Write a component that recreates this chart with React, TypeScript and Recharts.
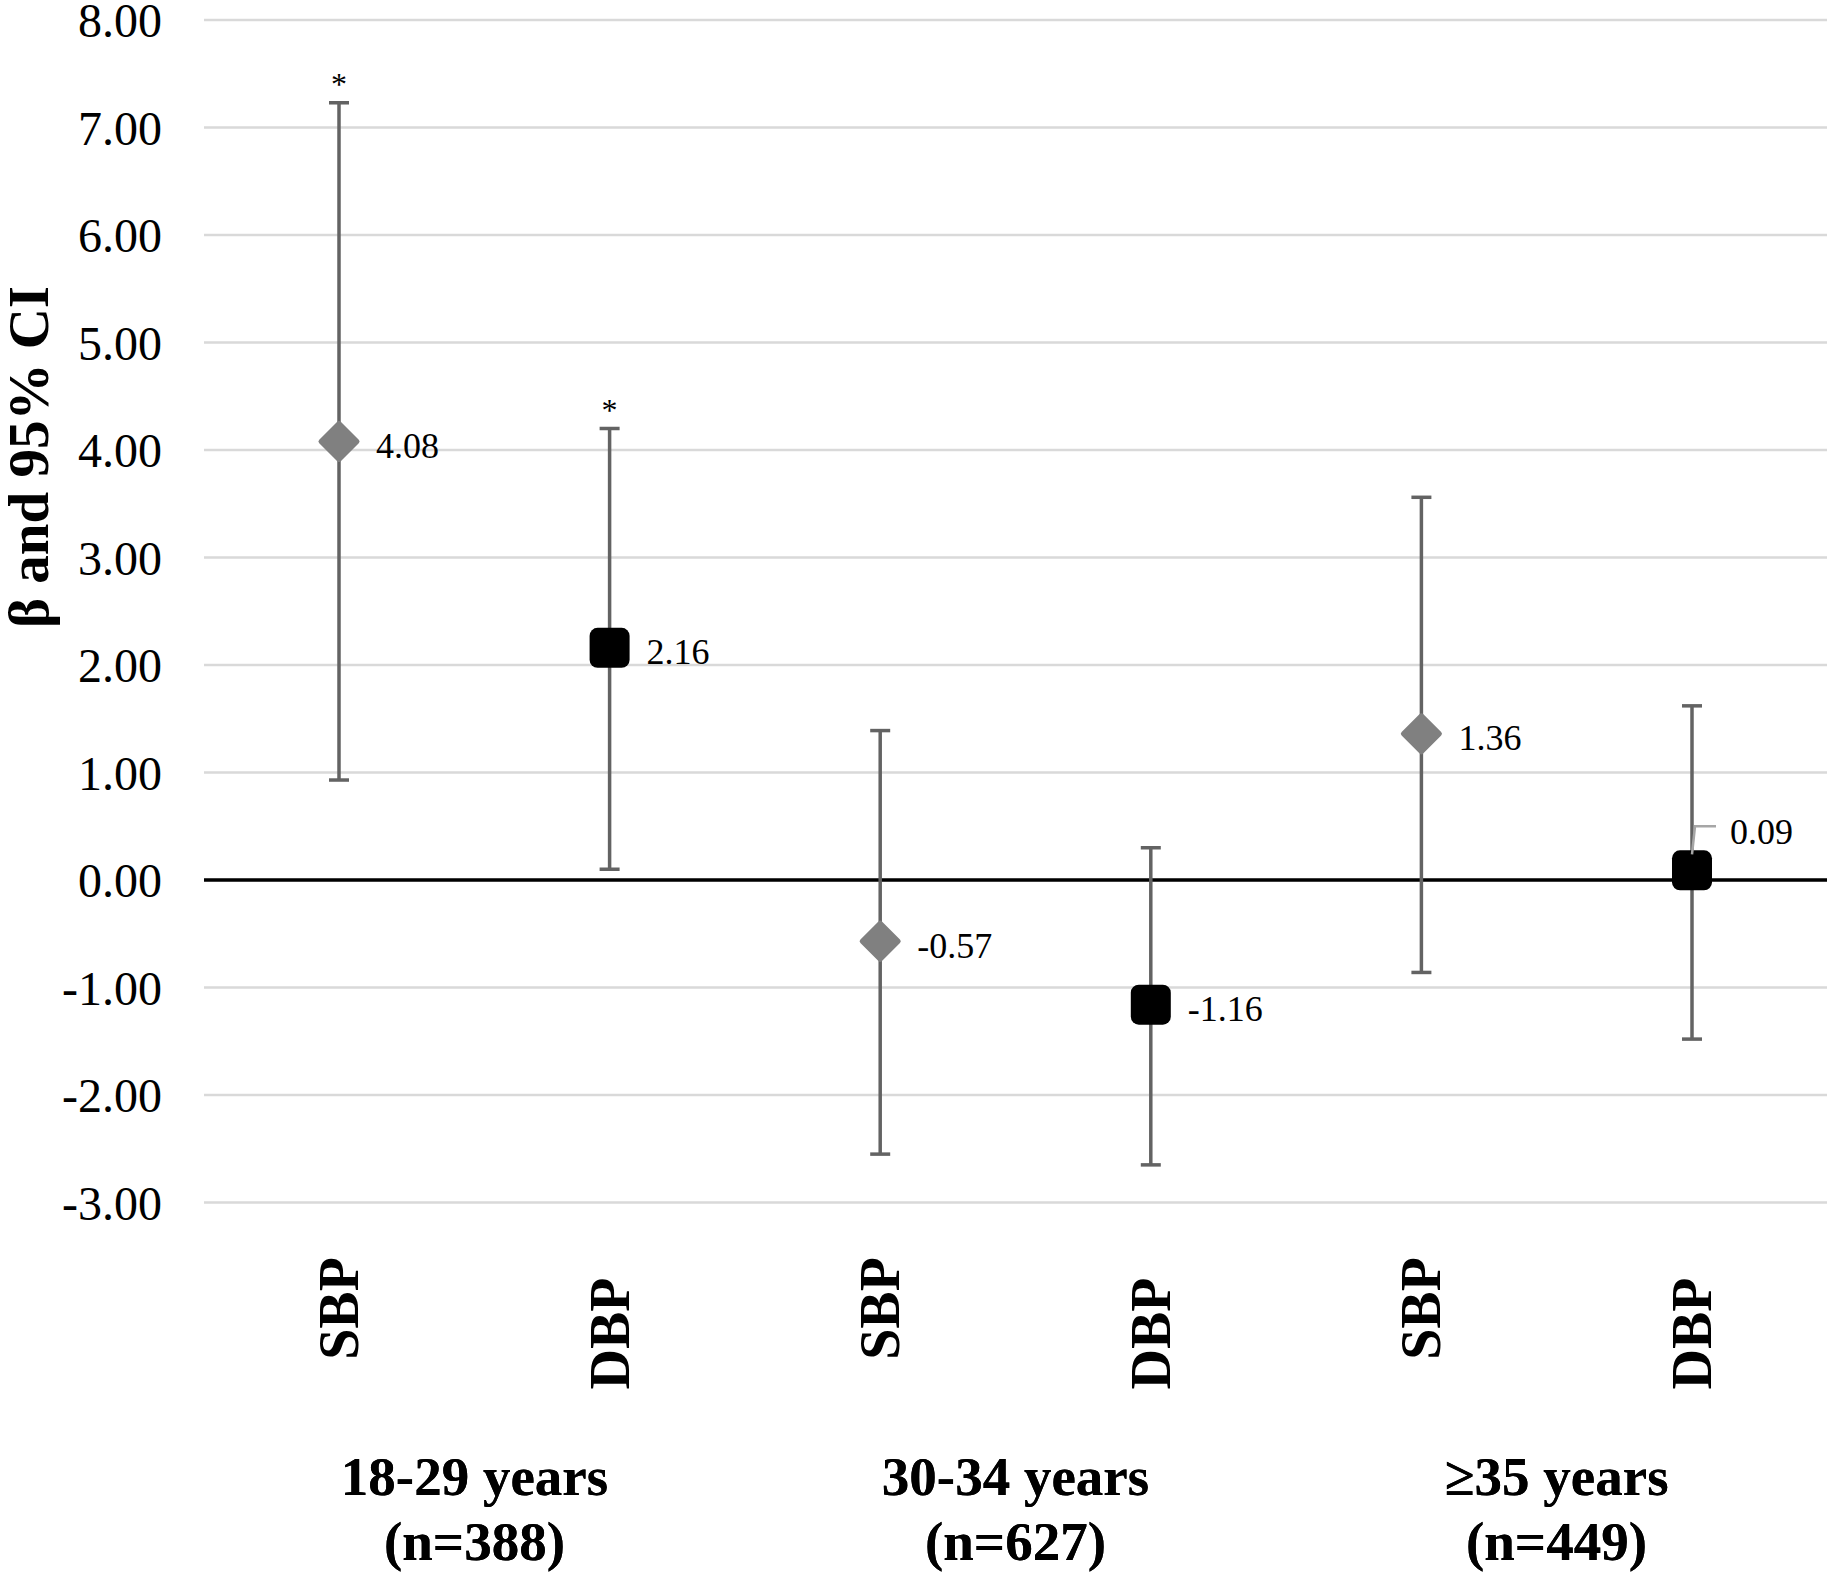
import { ComposedChart, Scatter, ErrorBar, XAxis, YAxis, CartesianGrid, ReferenceLine } from "recharts"

const groups = ["18-29 years", "30-34 years", "≥35 years"]
const groupSizes = ["(n=388)", "(n=627)", "(n=449)"]
const measures = ["SBP", "DBP"]
const beta = [4.08, 2.16, -0.57, -1.16, 1.36, 0.09]
const ciLow = [0.93, 0.1, -2.55, -2.65, -0.86, -1.48]
const ciHigh = [7.23, 4.2, 1.39, 0.3, 3.56, 1.62]
const significant = [true, true, false, false, false, false]
const yTicks = [-3, -2, -1, 0, 1, 2, 3, 4, 5, 6, 7, 8]

const rows = beta.map((b, i) => ({
  id: `${groups[Math.floor(i / 2)]}|${measures[i % 2]}`,
  measure: measures[i % 2],
  group: groups[Math.floor(i / 2)],
  beta: b,
  hi: ciHigh[i],
  err: [b - ciLow[i], ciHigh[i] - b],
  sig: significant[i],
}))

const FONT = '"Liberation Serif", "Times New Roman", serif'

function Marker(props: any) {
  const { cx, cy, payload } = props
  if (cx == null || cy == null) return <g />
  const label = payload.beta.toFixed(2)
  const nearZero = Math.abs(payload.beta) < 0.3
  return (
    <g>
      {payload.measure === "SBP" ? (
        <path
          d={`M${cx},${cy - 18} L${cx + 18},${cy} L${cx},${cy + 18} L${cx - 18},${cy} Z`}
          fill="#808080"
          stroke="#808080"
          strokeWidth={5}
          strokeLinejoin="round"
        />
      ) : (
        <rect x={cx - 20} y={cy - 20} width={40} height={40} rx={8} fill="#000" />
      )}
      {nearZero ? (
        <>
          <polyline
            points={`${cx},${cy - 16} ${cx + 3},${cy - 44} ${cx + 24},${cy - 44}`}
            fill="none"
            stroke="#a6a6a6"
            strokeWidth={2.5}
          />
          <text x={cx + 38} y={cy - 39} dy="0.35em" fontSize={36} fontFamily={FONT} fill="#000">
            {label}
          </text>
        </>
      ) : (
        <text x={cx + 37} y={cy + 4} dy="0.35em" fontSize={36} fontFamily={FONT} fill="#000">
          {label}
        </text>
      )}
    </g>
  )
}

function Star(props: any) {
  const { cx, cy, payload } = props
  if (!payload?.sig || cx == null) return <g />
  return (
    <text x={cx} y={cy - 8} textAnchor="middle" fontSize={32} fontFamily={FONT} fill="#000">
      *
    </text>
  )
}

function MeasureTick(props: any) {
  const { x, y, payload, index } = props
  const name = String(payload.value).split("|")[1]
  const cy = y + (index % 2 === 0 ? 104 : 129)
  return (
    <text
      x={x}
      y={cy}
      transform={`rotate(-90, ${x}, ${cy})`}
      textAnchor="middle"
      dominantBaseline="central"
      fontSize={56}
      fontWeight="bold"
      fontFamily={FONT}
      fill="#000"
    >
      {name}
    </text>
  )
}

function GroupTick(props: any) {
  const { x, y, payload } = props
  const gi = groups.indexOf(payload.value)
  return (
    <g fontSize={55} fontWeight="bold" fontFamily={FONT} fill="#000">
      <text x={x} y={y + 60} textAnchor="middle">{payload.value}</text>
      <text x={x} y={y + 125} textAnchor="middle">{groupSizes[gi]}</text>
    </g>
  )
}

function YTick(props: any) {
  const { x, y, payload } = props
  return (
    <text x={x} y={y} dy="0.36em" textAnchor="end" fontSize={48} fontFamily={FONT} fill="#000">
      {payload.value.toFixed(2)}
    </text>
  )
}

function AxisTitle(props: any) {
  const vb = props.viewBox
  const x = vb.x + 28
  const y = vb.y + 437
  return (
    <text
      x={x}
      y={y}
      transform={`rotate(-90, ${x}, ${y})`}
      textAnchor="middle"
      dominantBaseline="central"
      fontSize={57}
      fontWeight="bold"
      fontFamily={FONT}
      fill="#000"
    >
      β and 95% CI
    </text>
  )
}

export default function App() {
  return (
    <div style={{ position: "absolute", left: 0, top: 0, width: 1827, height: 1575, background: "#fff" }}>
      <ComposedChart width={1827} height={1575} data={rows} margin={{ top: 20, right: 0, bottom: 0, left: 0 }}>
        <CartesianGrid xAxisId="a" vertical={false} stroke="#d9d9d9" strokeWidth={2.5} />
        <XAxis
          xAxisId="a"
          dataKey="id"
          type="category"
          scale="point"
          padding={{ left: 135, right: 135 }}
          height={230}
          axisLine={false}
          tickLine={false}
          tickSize={0}
          interval={0}
          tick={<MeasureTick />}
        />
        <XAxis
          xAxisId="b"
          dataKey="group"
          type="category"
          scale="point"
          allowDuplicatedCategory={false}
          padding={{ left: 270.5, right: 270.5 }}
          height={142.5}
          axisLine={false}
          tickLine={false}
          tickSize={0}
          interval={0}
          tick={<GroupTick />}
        />
        <YAxis
          type="number"
          domain={[-3, 8]}
          ticks={yTicks}
          allowDataOverflow
          width={204}
          axisLine={false}
          tickLine={false}
          tickSize={0}
          tickMargin={42}
          interval={0}
          tick={<YTick />}
          label={<AxisTitle />}
        />
        <ReferenceLine xAxisId="a" y={0} stroke="#000" strokeWidth={3.5} />
        <Scatter xAxisId="a" dataKey="beta" isAnimationActive={false} shape={<Marker />}>
          <ErrorBar dataKey="err" direction="y" width={10} stroke="#636363" strokeWidth={3.5} />
        </Scatter>
        <Scatter xAxisId="a" dataKey="hi" isAnimationActive={false} shape={<Star />} />
      </ComposedChart>
    </div>
  )
}
